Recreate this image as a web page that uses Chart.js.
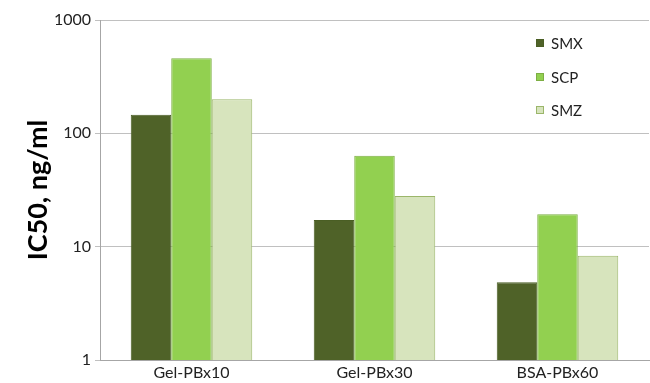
<!DOCTYPE html>
<html>
<head>
<meta charset="utf-8">
<script src="https://cdn.jsdelivr.net/npm/chart.js@4.4.1/dist/chart.umd.min.js"></script>
<style>
  html, body { margin: 0; padding: 0; background: #fff; }
  #wrap { width: 650px; height: 383px; position: relative; }
</style>
</head>
<body>
<div id="wrap"><canvas id="c" width="650" height="383"></canvas></div>
<script>
// Conjugate groups and IC50 values (ng/ml) per sulfonamide
const categories = ['Gel-PBx10', 'Gel-PBx30', 'BSA-PBx60'];
const smx = [146, 17.2, 4.85];
const scp = [460, 63.5, 19.3];
const smz = [200, 28, 8.3];
const yTicks = [1, 10, 100, 1000];

const FONT = 'Lato, "Open Sans", "Liberation Sans", sans-serif';

// Legend drawn inside the plot area, stacked vertically at the top right
const insideLegend = {
  id: 'insideLegend',
  afterDraw(chart) {
    const ctx = chart.ctx;
    const x0 = 536, ys = [43, 77, 110];
    ctx.save();
    ctx.font = '15px ' + FONT;
    ctx.textBaseline = 'middle';
    chart.data.datasets.forEach((ds, i) => {
      const y = ys[i];
      ctx.fillStyle = ds.backgroundColor;
      ctx.fillRect(x0, y - 4, 8, 8);
      ctx.strokeStyle = ds.borderColor;
      ctx.lineWidth = 1;
      ctx.strokeRect(x0 + 0.5, y - 3.5, 7, 7);
      ctx.fillStyle = '#222';
      ctx.fillText(ds.label, x0 + 15, y + 1);
    });
    ctx.restore();
  }
};

new Chart(document.getElementById('c'), {
  type: 'bar',
  data: {
    labels: categories,
    datasets: [
      { label: 'SMX', data: smx, backgroundColor: '#4F6228', borderColor: '#4A5E24', borderWidth: 1 },
      { label: 'SCP', data: scp, backgroundColor: '#92D050', borderColor: '#7DAE44', borderWidth: 1 },
      { label: 'SMZ', data: smz, backgroundColor: '#D7E4BD', borderColor: '#9BB66A', borderWidth: 1 }
    ]
  },
  options: {
    responsive: false,
    animation: false,
    devicePixelRatio: 1,
    layout: { padding: { top: 20, right: 1, left: 0, bottom: 0 } },
    datasets: { bar: { categoryPercentage: 0.664, barPercentage: 1.0 } },
    plugins: { legend: { display: false }, tooltip: { enabled: false } },
    scales: {
      x: {
        grid: { display: false, drawTicks: false, tickLength: 0 },
        border: { display: true, color: '#A6A6A6', width: 1 },
        ticks: { color: '#222', font: { family: FONT, size: 16 }, padding: 3 },
        afterFit(s) { s.height = 23; }
      },
      y: {
        type: 'logarithmic',
        min: 1,
        max: 1000,
        afterBuildTicks(s) { s.ticks = yTicks.map(v => ({ value: v })); },
        grid: { color: '#C0C0C0', lineWidth: 1, tickLength: 5, drawTicks: true },
        border: { display: true, color: '#A6A6A6', width: 1 },
        ticks: {
          color: '#222',
          font: { family: FONT, size: 16 },
          padding: 4,
          callback: (v) => String(v)
        },
        title: {
          display: true,
          text: 'IC50, ng/ml',
          color: '#000',
          font: { family: FONT, size: 27, weight: 'bold' },
          padding: { top: 22, bottom: 0 }
        },
        afterFit(s) { s.width = 100; }
      }
    }
  },
  plugins: [insideLegend]
});
</script>
</body>
</html>
